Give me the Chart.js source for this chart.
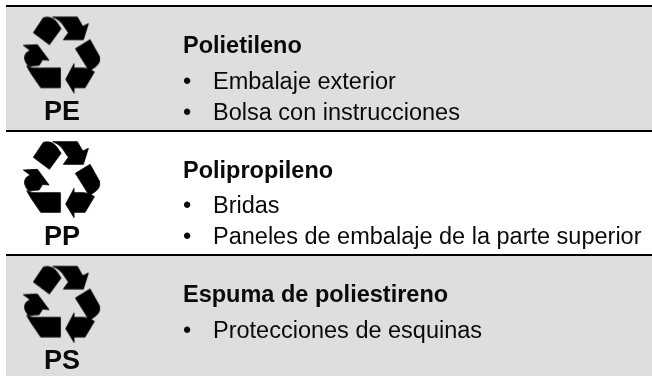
<!DOCTYPE html>
<html>
<head>
<meta charset="utf-8">
<script src="https://cdn.jsdelivr.net/npm/chart.js@4"></script>
<style>
html, body { margin: 0; padding: 0; background: #fff; overflow: hidden; }
#box { width: 652px; height: 380px; overflow: hidden; }
</style>
</head>
<body>
<div id="box"><canvas id="myChart" width="652" height="380"></canvas></div>
<script>
const rowTitles = ["Polietileno", "Polipropileno", "Espuma de poliestireno"];
const rowCodes = ["PE", "PP", "PS"];
const rowItems = [
    ["Embalaje exterior", "Bolsa con instrucciones"],
    ["Bridas", "Paneles de embalaje de la parte superior"],
    ["Protecciones de esquinas"]
];
const rowSpans = [1, 1, 1];
const rowColors = ["#dedede", "#ffffff", "#dedede"];
const font = '"Liberation Sans", Arial, sans-serif';

// recycling symbol at 3x
function makeIcon() {
    const c = document.createElement("canvas");
    c.width = 100;
    c.height = 124;
    const g = c.getContext("2d");
    g.fillStyle = "#000";
    g.strokeStyle = "#000";
    g.lineWidth = 2.5;
    g.lineJoin = "round";
    g.translate(-12, -6);
    g.scale(1 / 3, 1 / 3);
    function shape(fn) { g.beginPath(); fn(); g.closePath(); g.fill(); g.stroke(); }
    shape(() => { // top left block
        g.moveTo(100, 97); g.lineTo(130, 52);
        g.quadraticCurveTo(155, 45, 172, 68);
        g.lineTo(183, 85); g.lineTo(148, 133);
    });
    shape(() => { // top arrow
        g.moveTo(158, 50); g.lineTo(232, 50); g.lineTo(248, 78); g.lineTo(265, 70);
        g.lineTo(250, 118); g.lineTo(190, 118); g.lineTo(205, 97); g.lineTo(188, 72);
        g.quadraticCurveTo(175, 55, 158, 50);
    });
    shape(() => { // left arrow
        g.moveTo(70, 135); g.lineTo(112, 133); g.lineTo(147, 180); g.lineTo(128, 178);
        g.lineTo(117, 195); g.lineTo(85, 197);
        g.quadraticCurveTo(66, 175, 78, 158);
        g.lineTo(90, 150);
    });
    shape(() => { // bottom left block
        g.moveTo(80, 197); g.quadraticCurveTo(100, 206, 125, 203);
        g.lineTo(181, 203); g.lineTo(181, 262); g.lineTo(122, 262); g.lineTo(92, 218);
    });
    shape(() => { // bottom arrow
        g.moveTo(222, 190); g.lineTo(197, 237); g.lineTo(222, 278); g.lineTo(222, 262);
        g.lineTo(255, 262); g.lineTo(283, 215); g.lineTo(270, 207);
        g.quadraticCurveTo(262, 204, 250, 203);
        g.lineTo(222, 203);
    });
    shape(() => { // right block
        g.moveTo(226, 145); g.lineTo(270, 118); g.lineTo(298, 168);
        g.quadraticCurveTo(303, 188, 285, 200);
        g.lineTo(268, 212);
    });
    return c;
}

const rowText = {
    id: "rowText",
    afterDatasetsDraw(chart) {
        const g = chart.ctx;
        const y = chart.scales.y;
        g.save();
        g.fillStyle = "#0a0a0a";
        g.textBaseline = "alphabetic";
        rowTitles.forEach((title, i) => {
            const top = y.getPixelForValue(i) - 62.3;
            g.textAlign = "center";
            g.font = "bold 27px " + font;
            g.fillText(rowCodes[i], 62, top + 114);
            g.textAlign = "left";
            g.font = "bold 23.5px " + font;
            g.fillText(title, 183, top + 47);
            g.font = "23.5px " + font;
            rowItems[i].forEach((item, j) => {
                g.fillText("•", 183, top + 82.5 + j * 31);
                g.fillText(item, 213, top + 82.5 + j * 31);
            });
        });
        g.restore();
    }
};

new Chart(document.getElementById("myChart"), {
    data: {
        labels: rowTitles,
        datasets: [
            {
                type: "line",
                indexAxis: "y",
                showLine: false,
                clip: false,
                data: rowTitles.map(t => ({ x: 0.0867, y: t })),
                pointStyle: makeIcon(),
                order: 0
            },
            {
                type: "bar",
                indexAxis: "y",
                data: rowSpans,
                backgroundColor: rowColors,
                barPercentage: 1,
                categoryPercentage: 1,
                order: 1
            }
        ]
    },
    plugins: [rowText],
    options: {
        indexAxis: "y",
        responsive: false,
        animation: false,
        layout: { autoPadding: false, padding: { left: 6, top: 6, right: 0, bottom: 0 } },
        plugins: { legend: { display: false }, tooltip: { enabled: false } },
        scales: {
            x: { display: false, min: 0, max: 1 },
            y: {
                type: "category",
                offset: true,
                position: "left",
                ticks: { display: false },
                border: { display: false },
                grid: { color: "#000", lineWidth: 2, drawTicks: false, offset: true, z: 1 }
            }
        }
    }
});
</script>
</body>
</html>
